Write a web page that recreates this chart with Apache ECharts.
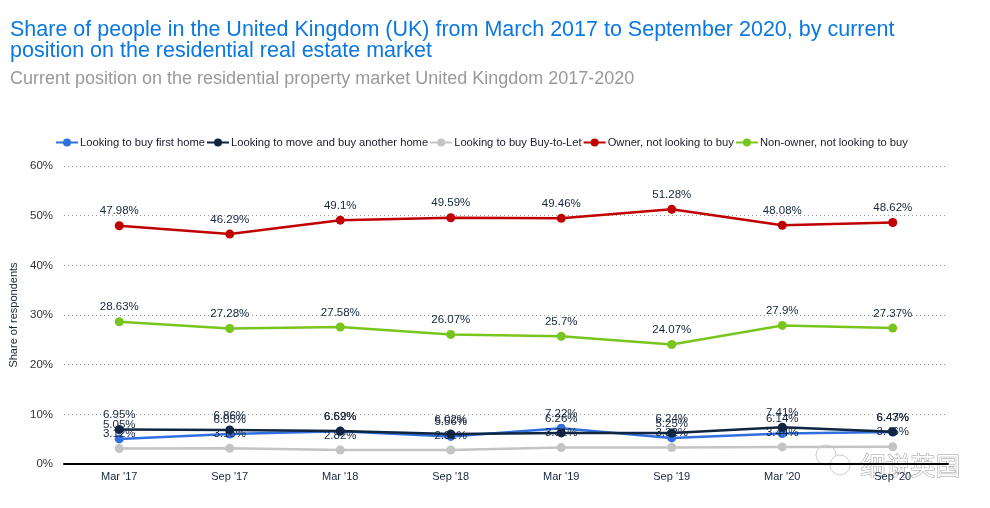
<!DOCTYPE html>
<html>
<head>
<meta charset="utf-8">
<script src="https://cdn.jsdelivr.net/npm/echarts@6/dist/echarts.min.js"></script>
<style>html,body{margin:0;padding:0;background:#fff}#c{width:990px;height:508px}</style>
</head>
<body>
<div id="c"></div>
<script>
const categories = ["Mar '17", "Sep '17", "Mar '18", "Sep '18", "Mar '19", "Sep '19", "Mar '20", "Sep '20"];
const firstHome = [5.05, 6.05, 6.59, 5.56, 7.22, 5.25, 6.14, 6.43];
const moveHome = [6.95, 6.86, 6.62, 6.02, 6.26, 6.24, 7.41, 6.47];
const buyToLet = [3.12, 3.16, 2.82, 2.81, 3.31, 3.32, 3.44, 3.46];
const ownerNot = [47.98, 46.29, 49.1, 49.59, 49.46, 51.28, 48.08, 48.62];
const nonOwnerNot = [28.63, 27.28, 27.58, 26.07, 25.7, 24.07, 27.9, 27.37];
const seriesNames = ["Looking to buy first home", "Looking to move and buy another home", "Looking to buy Buy-to-Let", "Owner, not looking to buy", "Non-owner, not looking to buy"];
const yTicks = [0, 10, 20, 30, 40, 50, 60];

const colors = ['#2f6fe0', '#0f2540', '#c4c4c4', '#c00000', '#78c51e'];
const font = 'Liberation Sans, Arial, sans-serif';
const datas = [firstHome, moveHome, buyToLet, ownerNot, nonOwnerNot];

const chart = echarts.init(document.getElementById('c'));
chart.setOption({
  animation: false,
  color: colors,
  textStyle: { fontFamily: font },
  title: [
    { text: 'Share of people in the United Kingdom (UK) from March 2017 to September 2020, by current\nposition on the residential real estate market',
      left: 10, top: 20, padding: 0,
      textStyle: { color: '#0a78e0', fontSize: 21.5, fontWeight: 'normal', lineHeight: 21, fontFamily: font } },
    { text: 'Current position on the residential property market United Kingdom 2017-2020',
      left: 10, top: 70, padding: 0,
      textStyle: { color: '#999999', fontSize: 18, fontWeight: 'normal', fontFamily: font } }
  ],
  legend: {
    left: 50, top: 132,
    itemWidth: 22, itemHeight: 10, itemGap: 1,
    textStyle: { fontSize: 11.2, color: '#1a1a2e', fontFamily: font, padding: [0, 0, 0, -3] },
    data: seriesNames
  },
  grid: { left: 64, right: 42, top: 166, bottom: 44, containLabel: false },
  xAxis: {
    type: 'category', data: categories, boundaryGap: true,
    axisLine: { lineStyle: { color: '#000', width: 2 } },
    axisTick: { show: false },
    axisLabel: { fontSize: 11, color: '#14253b', margin: 7, fontFamily: font }
  },
  yAxis: {
    type: 'value', min: 0, max: 60, interval: 10,
    name: 'Share of respondents', nameLocation: 'middle', nameGap: 38, nameRotate: 90,
    nameTextStyle: { fontSize: 11, color: '#14253b', fontFamily: font },
    axisLine: { show: false }, axisTick: { show: false },
    axisLabel: { fontSize: 11.5, color: '#333', margin: 11, formatter: v => yTicks.includes(v) ? v + '%' : '' },
    splitLine: { lineStyle: { color: '#999', type: [1, 3], width: 1 } }
  },
  series: datas.map((d, i) => ({
    name: seriesNames[i], type: 'line', data: d,
    symbol: 'circle', symbolSize: 9,
    lineStyle: { width: 2.5, color: colors[i] },
    itemStyle: { color: colors[i] },
    z: i === 1 ? 4 : 3,
    label: { show: true, position: 'top', distance: 4, fontSize: 11.5, color: '#14253b', fontFamily: font,
      formatter: p => p.value + '%' }
  })),
  graphic: [
    { type: 'circle', shape: { cx: 826, cy: 455, r: 10 }, style: { fill: '#fff', stroke: '#ccc', lineWidth: 1 } },
    { type: 'circle', shape: { cx: 840, cy: 465, r: 10 }, style: { fill: '#fff', stroke: '#ccc', lineWidth: 1 } },
    { type: 'text', left: 860, top: 452,
      style: { text: '细说英国', font: '25px "Noto Sans CJK SC"', fill: '#fff', stroke: '#999', lineWidth: 1 } }
  ]
});
</script>
</body>
</html>
